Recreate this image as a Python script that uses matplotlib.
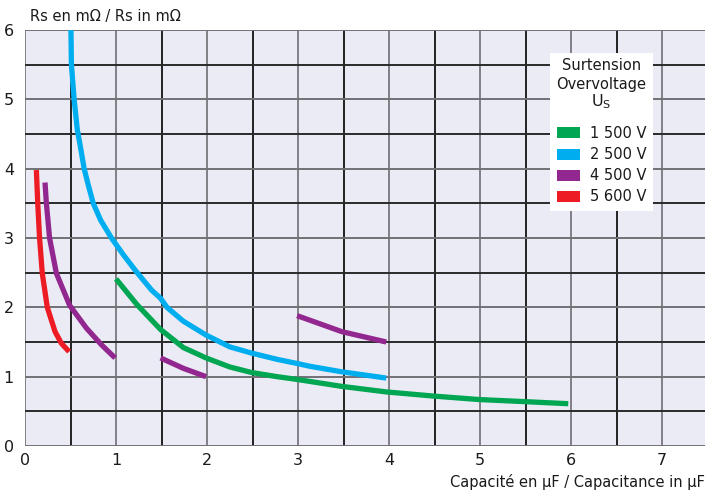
import matplotlib
matplotlib.use("Agg")
import matplotlib.pyplot as plt
from matplotlib import font_manager
from matplotlib.patches import Rectangle

# ---------------- data ----------------
green_label = "1 500 V"
green_x = [1.0, 1.23, 1.49, 1.74, 1.99, 2.25, 2.49, 2.77, 2.99, 3.48, 3.97, 4.49, 4.99, 5.49, 5.97]
green_y = [2.41, 2.04, 1.68, 1.42, 1.27, 1.14, 1.06, 1.00, 0.96, 0.86, 0.78, 0.72, 0.67, 0.64, 0.61]

blue_label = "2 500 V"
blue_x = [0.505, 0.51, 0.54, 0.575, 0.615, 0.65, 0.70, 0.75, 0.83, 0.95, 1.08, 1.22,
          1.39, 1.49, 1.56, 1.74, 1.99, 2.25, 2.49, 2.77, 2.99, 3.13, 3.48, 3.97]
blue_y = [6.0, 5.5, 5.0, 4.56, 4.27, 4.0, 3.74, 3.5, 3.26, 3.0, 2.76, 2.52,
          2.25, 2.13, 2.0, 1.80, 1.60, 1.43, 1.34, 1.25, 1.19, 1.15, 1.07, 0.98]

purple_label = "4 500 V"
purple1_x = [0.22, 0.235, 0.27, 0.345, 0.49, 0.675, 0.84, 0.99]
purple1_y = [3.8, 3.5, 3.0, 2.49, 2.03, 1.70, 1.46, 1.27]
purple2_x = [1.49, 1.74, 1.99]
purple2_y = [1.27, 1.12, 1.0]
purple3_x = [2.99, 3.48, 3.97]
purple3_y = [1.88, 1.65, 1.5]

red_label = "5 600 V"
red_x = [0.125, 0.14, 0.16, 0.19, 0.245, 0.33, 0.40, 0.485]
red_y = [3.98, 3.5, 3.0, 2.49, 2.0, 1.65, 1.48, 1.36]

x_ticks = [0, 1, 2, 3, 4, 5, 6, 7]
y_ticks = [0, 1, 2, 3, 4, 5, 6]

# ---------------- style ----------------
avail = {f.name for f in font_manager.fontManager.ttflist}
family = "Liberation Sans Narrow" if "Liberation Sans Narrow" in avail else "DejaVu Sans"
plt.rcParams["font.family"] = [family, "DejaVu Sans"]
FS = 12.5 if family != "DejaVu Sans" else 10.5
TFS = 12.5 if family != "DejaVu Sans" else 11.5

GREEN = "#00a651"
BLUE = "#00aeef"
PURPLE = "#92278f"
RED = "#ed1c24"
BG = "#ebebf5"
TXT = "#1a1a1a"

W, H = 705, 494
fig = plt.figure(figsize=(W / 100, H / 100), dpi=100)
L, R, T, B = 25, 705, 30, 446
ax = fig.add_axes([L / W, 1 - B / H, (R - L) / W, (B - T) / H])
ax.set_facecolor(BG)
ax.set_xlim(0, 680 / 91.0)
ax.set_ylim(0, 6)
for s in ax.spines.values():
    s.set_visible(False)

# grid
for i in range(0, 15):
    v = i * 0.5
    c = "#808085" if i % 2 == 0 else "#222222"
    ax.axvline(v, color=c, lw=1.4, zorder=1)
for i in range(0, 13):
    v = i * 0.5
    c = "#707075" if i % 2 == 0 else "#2a2a2a"
    ax.axhline(v, color=c, lw=1.4, zorder=1)

lw = 3.8
ax.plot(green_x, green_y, color=GREEN, lw=lw, zorder=3, solid_capstyle="butt", solid_joinstyle="round")
ax.plot(blue_x, blue_y, color=BLUE, lw=lw, zorder=3, solid_capstyle="butt", solid_joinstyle="round")
for xs, ys in [(purple1_x, purple1_y), (purple2_x, purple2_y), (purple3_x, purple3_y)]:
    ax.plot(xs, ys, color=PURPLE, lw=lw, zorder=3, solid_capstyle="butt", solid_joinstyle="round")
ax.plot(red_x, red_y, color=RED, lw=lw, zorder=3, solid_capstyle="butt", solid_joinstyle="round")

ax.set_xticks(x_ticks)
ax.set_yticks(y_ticks)
ax.set_xticklabels([str(t) for t in x_ticks])
ax.set_yticklabels([str(t) for t in y_ticks])
ax.tick_params(length=0, labelsize=TFS, colors=TXT)
ax.tick_params(axis="y", pad=8)
ax.tick_params(axis="x", pad=5)


def px(x, y):
    return (x / W, 1 - y / H)


fig.text(*px(30, 17), "Rs en m\u03a9 / Rs in m\u03a9", fontsize=FS, ha="left", va="center", color=TXT)
fig.text(*px(705, 482), "Capacit\u00e9 en \u00b5F / Capacitance in \u00b5F", fontsize=FS,
         ha="right", va="center", color=TXT)

# legend box
bx0, by0, bx1, by1 = 550, 53, 653, 211
fig.patches.append(Rectangle(px(bx0, by1), (bx1 - bx0) / W, (by1 - by0) / H,
                             transform=fig.transFigure, facecolor="white", edgecolor="none", zorder=5))
cx = (bx0 + bx1) / 2
LFS = FS
fig.text(*px(cx, 66), "Surtension", fontsize=LFS, ha="center", va="center", zorder=6, color=TXT)
fig.text(*px(cx, 84), "Overvoltage", fontsize=LFS, ha="center", va="center", zorder=6, color=TXT)
fig.text(*px(cx, 102), "U$_\\mathregular{S}$", fontsize=LFS + 1, ha="center", va="center", zorder=6, color=TXT)
entries = [(GREEN, green_label), (BLUE, blue_label), (PURPLE, purple_label), (RED, red_label)]
for i, (c, lab) in enumerate(entries):
    yc = 133 + i * 21.3
    fig.patches.append(Rectangle(px(557, yc + 5.5), 23 / W, 11 / H, transform=fig.transFigure,
                                 facecolor=c, edgecolor="none", zorder=6))
    fig.text(*px(647, yc), lab, fontsize=LFS, ha="right", va="center", zorder=6, color=TXT)

fig.savefig("out.png", dpi=100)
